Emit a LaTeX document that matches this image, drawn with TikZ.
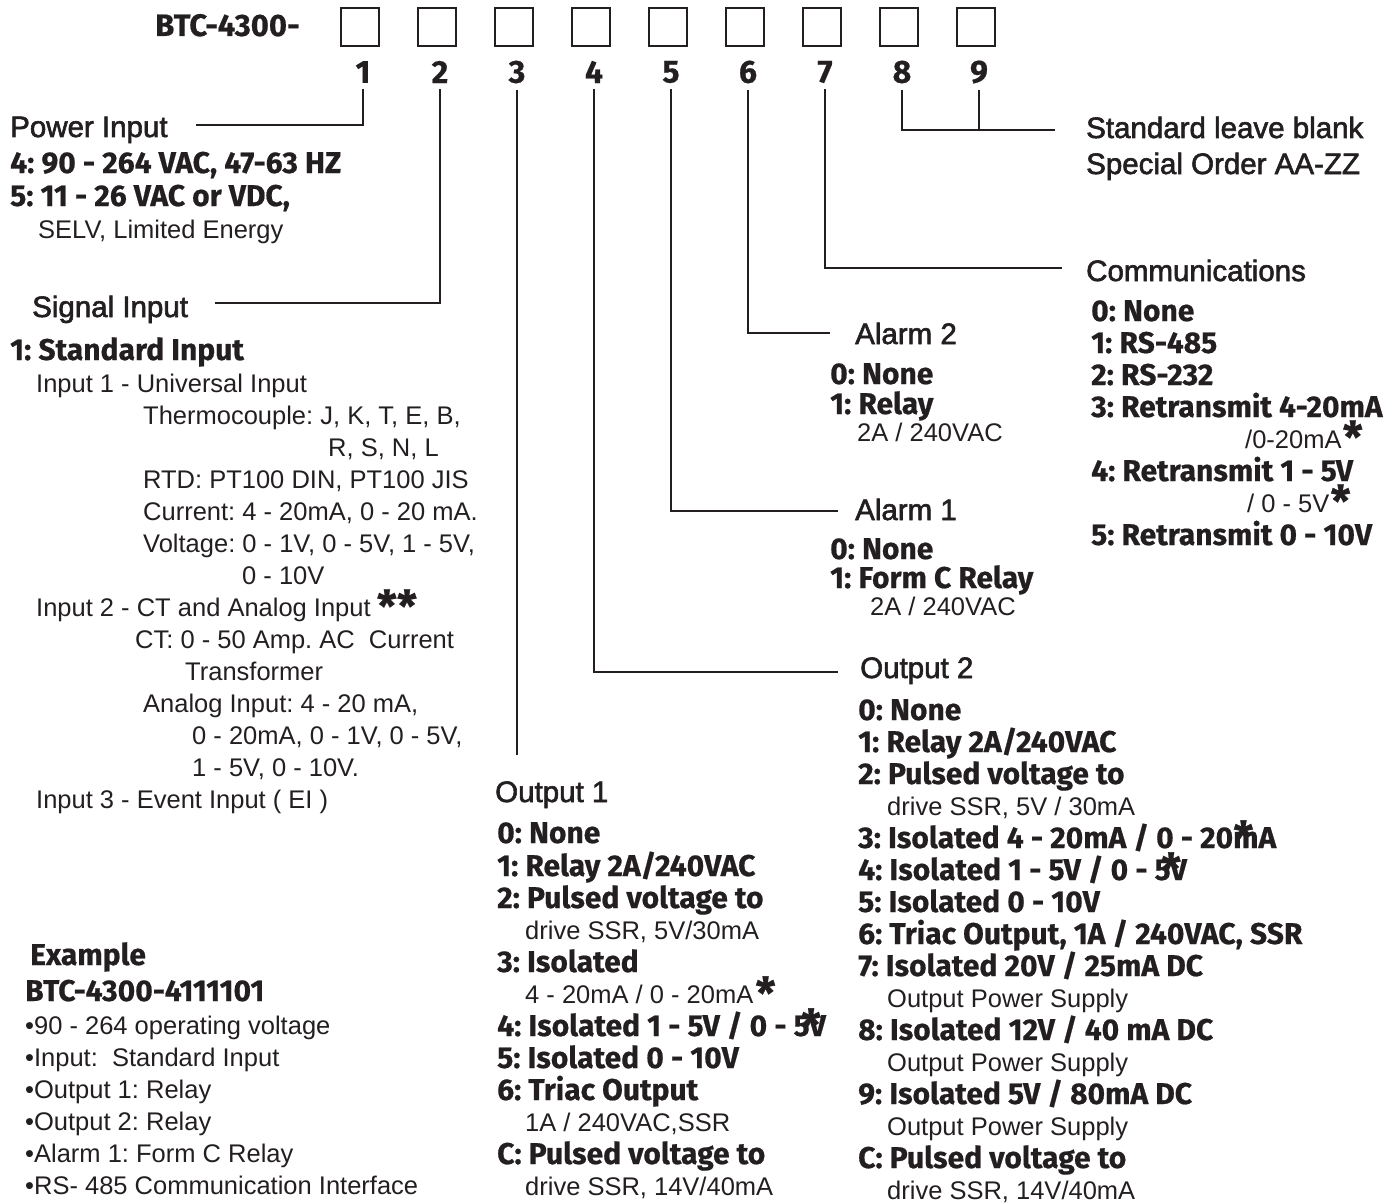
\documentclass[tikz,border=0pt]{standalone}
\usepackage{fontspec}
\setmainfont{Liberation Sans}
\newfontfamily\bfam{Fira Sans}[BoldFeatures={FakeBold=0.6}]
\newfontfamily\hfam{Liberation Sans}[FakeBold=2]
\definecolor{ink}{RGB}{35,31,32}
\frenchspacing
\tikzset{
 hd/.style={anchor=base west, inner sep=0, text=ink, font=\hfam\fontsize{29.5}{30}\selectfont\frenchspacing},
 bd/.style={anchor=base west, inner sep=0, text=ink, font=\bfam\bfseries\fontsize{30}{30}\selectfont\frenchspacing},
 rg/.style={anchor=base west, inner sep=0, text=ink, font=\fontsize{25.5}{30}\selectfont\frenchspacing},
 ln/.style={line width=1.3pt, draw=ink},
 bx/.style={draw=ink, line width=2pt, minimum width=38pt, minimum height=38pt, inner sep=0},
 dg/.style={font=\bfam\bfseries\fontsize{32}{32}\selectfont, text=ink, inner sep=0, anchor=center},
 st/.style={font=\bfam\bfseries\fontsize{44}{44}\selectfont, text=ink, inner sep=0, anchor=base}
}
\begin{document}
\begin{tikzpicture}[x=1pt,y=-1pt]
\useasboundingbox (0,0) rectangle (1400,1204);
% title and boxes
\node[anchor=base west, inner sep=0, text=ink, font=\bfam\bfseries\fontsize{31}{31}\selectfont] (title) at (155,36) {BTC-4300-};
\foreach \i/\x in {1/360,2/437,3/514,4/591,5/668,6/745,7/822,8/899,9/976}{
  \node[bx] (b\i) at (\x,27) {};
  \node[dg] (d\i) at (\x+3,72) {\i};
}
% connector end points
\coordinate (c1) at (196,125);
\coordinate (c2) at (215,303);
\coordinate (c3) at (515,755);
\coordinate (c4) at (838,672);
\coordinate (c5) at (838,511);
\coordinate (c6) at (830,333);
\coordinate (c7) at (1062,268);
\coordinate (c8) at (1055,130);
\coordinate (c9) at (977,130);
\draw[ln] ([yshift=-6pt]d1.south) |- (c1);
\draw[ln] ([yshift=-6pt]d2.south) |- (c2);
\draw[ln] ([yshift=-6pt]d3.south) -- (d3.south |- c3);
\draw[ln] ([yshift=-6pt]d4.south) |- (c4);
\draw[ln] ([yshift=-6pt]d5.south) |- (c5);
\draw[ln] ([yshift=-6pt]d6.south) |- (c6);
\draw[ln] ([yshift=-6pt]d7.south) |- (c7);
\draw[ln] ([yshift=-6pt]d8.south) |- (c8);
\draw[ln] ([yshift=-6pt]d9.south) -- (d9.south |- c9);

% Power input
\node[hd] (ph) at (10,137) {Power Input};
\node[bd] (p4) at (10,173) {4: 90 - 264 VAC, 47-63 HZ};
\node[bd] (p5) at (10,206) {5: 11 - 26 VAC or VDC,};
\node[rg] (p5b) at (38,238) {SELV, Limited Energy};
% Signal input
\node[hd] (sh) at (32,317) {Signal Input};
\node[bd] (s1) at (10,360) {1: Standard Input};
\node[rg] (s2) at (36,392) {Input 1 - Universal Input};
\node[rg] (s3) at (143,424) {Thermocouple: J, K, T, E, B,};
\node[rg] (s4) at (328,456) {R, S, N, L};
\node[rg] (s5) at (143,488) {RTD: PT100 DIN, PT100 JIS};
\node[rg] (s6) at (143,520) {Current: 4 - 20mA, 0 - 20 mA.};
\node[rg] (s7) at (143,552) {Voltage: 0 - 1V, 0 - 5V, 1 - 5V,};
\node[rg] (s8) at (242,584) {0 - 10V};
\node[rg] (s9) at (36,616) {Input 2 - CT and Analog Input};
\node[st] (s9s) at ([xshift=26pt,yshift=-6pt]s9.base east) {**};
\node[rg] (s10) at (135,648) {CT: 0 - 50 Amp. AC\ \ Current};
\node[rg] (s11) at (185,680) {Transformer};
\node[rg] (s12) at (143,712) {Analog Input: 4 - 20 mA,};
\node[rg] (s13) at (192,744) {0 - 20mA, 0 - 1V, 0 - 5V,};
\node[rg] (s14) at (192,776) {1 - 5V, 0 - 10V.};
\node[rg] (s15) at (36,808) {Input 3 - Event Input ( EI )};
% Example
\node[bd] (e0) at (30,965) {Example};
\node[bd] (e1) at (25,1001) {BTC-4300-4111101};
\node[rg] (e2) at (25,1034) {•90 - 264 operating voltage};
\node[rg] (e3) at (25,1066) {•Input:\ \ Standard Input};
\node[rg] (e4) at (25,1098) {•Output 1: Relay};
\node[rg] (e5) at (25,1130) {•Output 2: Relay};
\node[rg] (e6) at (25,1162) {•Alarm 1: Form C Relay};
\node[rg] (e7) at (25,1194) {•RS- 485 Communication Interface};
% Output 1
\node[hd] (o1h) at (495,802) {Output 1};
\node[bd] (o10) at (497,843) {0: None};
\node[bd] (o11) at (497,876) {1: Relay 2A/240VAC};
\node[bd] (o12) at (497,908) {2: Pulsed voltage to};
\node[rg] (o12b) at (525,939) {drive SSR, 5V/30mA};
\node[bd] (o13) at (497,972) {3: Isolated};
\node[rg] (o13b) at (525,1003) {4 - 20mA / 0 - 20mA};
\node[st] (o13s) at ([xshift=12pt,yshift=-6pt]o13b.base east) {*};
\node[bd] (o14) at (497,1036) {4: Isolated 1 - 5V / 0 - 5V};
\node[st] (o14s) at ([xshift=-15pt,yshift=-5pt]o14.base east) {*};
\node[bd] (o15) at (497,1068) {5: Isolated 0 - 10V};
\node[bd] (o16) at (497,1100) {6: Triac Output};
\node[rg] (o16b) at (525,1131) {1A / 240VAC,SSR};
\node[bd] (o1c) at (497,1164) {C: Pulsed voltage to};
\node[rg] (o1cb) at (525,1195) {drive SSR, 14V/40mA};
% Output 2
\node[hd] (o2h) at (860,678) {Output 2};
\node[bd] (o20) at (858,720) {0: None};
\node[bd] (o21) at (858,752) {1: Relay 2A/240VAC};
\node[bd] (o22) at (858,784) {2: Pulsed voltage to};
\node[rg] (o22b) at (887,815) {drive SSR, 5V / 30mA};
\node[bd] (o23) at (858,848) {3: Isolated 4 - 20mA / 0 - 20mA};
\node[st] (o23s) at ([xshift=-33pt,yshift=-5pt]o23.base east) {*};
\node[bd] (o24) at (858,880) {4: Isolated 1 - 5V / 0 - 5V};
\node[st] (o24s) at ([xshift=-16pt,yshift=-5pt]o24.base east) {*};
\node[bd] (o25) at (858,912) {5: Isolated 0 - 10V};
\node[bd] (o26) at (858,944) {6: Triac Output, 1A / 240VAC, SSR};
\node[bd] (o27) at (858,976) {7: Isolated 20V / 25mA DC};
\node[rg] (o27b) at (887,1007) {Output Power Supply};
\node[bd] (o28) at (858,1040) {8: Isolated 12V / 40 mA DC};
\node[rg] (o28b) at (887,1071) {Output Power Supply};
\node[bd] (o29) at (858,1104) {9: Isolated 5V / 80mA DC};
\node[rg] (o29b) at (887,1135) {Output Power Supply};
\node[bd] (o2c) at (858,1168) {C: Pulsed voltage to};
\node[rg] (o2cb) at (887,1199) {drive SSR, 14V/40mA};
% Alarm 2
\node[hd] (a2h) at (855,344) {Alarm 2};
\node[bd] (a20) at (830,384) {0: None};
\node[bd] (a21) at (830,414) {1: Relay};
\node[rg] (a21b) at (857,441) {2A / 240VAC};
% Alarm 1
\node[hd] (a1h) at (855,520) {Alarm 1};
\node[bd] (a10) at (830,559) {0: None};
\node[bd] (a11) at (830,588) {1: Form C Relay};
\node[rg] (a11b) at (870,615) {2A / 240VAC};
% Communications
\node[hd] (ch) at (1086,281) {Communications};
\node[bd] (c0) at (1091,321) {0: None};
\node[bd] (cc1) at (1091,353) {1: RS-485};
\node[bd] (cc2) at (1091,385) {2: RS-232};
\node[bd] (cc3) at (1091,417) {3: Retransmit 4-20mA};
\node[rg] (cc3b) at (1245,448) {/0-20mA};
\node[st] (cc3s) at ([xshift=11pt,yshift=-5pt]cc3b.base east) {*};
\node[bd] (cc4) at (1091,481) {4: Retransmit 1 - 5V};
\node[rg] (cc4b) at (1247,512) {/ 0 - 5V};
\node[st] (cc4s) at ([xshift=11pt,yshift=-5pt]cc4b.base east) {*};
\node[bd] (cc5) at (1091,545) {5: Retransmit 0 - 10V};
% Digits 8-9
\node[hd] (sb) at (1086,138) {Standard leave blank};
\node[hd] (so) at (1086,174) {Special Order AA-ZZ};
\end{tikzpicture}
\end{document}
